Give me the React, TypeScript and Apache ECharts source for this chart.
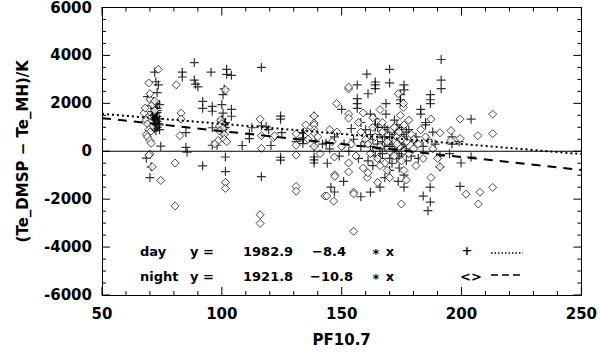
import React, { useEffect, useRef } from "react";
import * as echarts from "echarts";

// Day observations (+ symbols): [PF10.7, Te_DMSP - Te_MH]
const dayPoints: number[][] = [
  [72, 3300], [72.5, 2900], [69, 2280], [73.5, 2770], [71.5, 2080], [72, 1790], [73, 1700], [72.5, 1600],
  [71, 1500], [73, 1450], [72, 1400], [74, 1350], [71.5, 1300], [73, 1250], [72, 1200], [74, 1100],
  [71, 1050], [73, 1000], [72, 950], [74, 900], [72.5, 860], [73, 1800], [74, 1950], [71, 1650],
  [70, 1150], [74.5, 210], [68.5, -290], [70.5, -650], [70, -1100], [72.5, 2000], [73, 2450], [70.5, 1900],
  [72, 1550], [73.5, 1150], [72, 1320], [73, 1620],
  [83.5, 3300], [83.5, 3100], [85, 780], [85, 160], [85.5, -40], [88.5, 3700], [88.5, 2970], [89, 2800],
  [90, 2690], [92, 2080], [92, 1790], [95.5, 3300], [96, 1870], [96, 1670], [92, -610],
  [100, 1950], [100.5, 1590], [100, 1340], [100.5, 2360], [101, 2600], [102, 3420], [102, 3210], [104, 3170],
  [104, 1750], [104, 1460], [100, 1250], [101, 1150], [100, 1050], [101.5, 980], [100.5, 900], [100, 800],
  [101, 700], [96, 980], [96, 250], [98, 250], [101.5, -240], [101.5, -850], [108.5, 240], [111.5, 730],
  [100.5, 1100], [101, 1000], [100, 920], [101.5, 1200],
  [111.5, 530], [112.5, 980], [116.5, 3500], [116.5, 1060], [118.5, 1020], [119.5, 900], [120.5, 240],
  [116.5, -1060], [124.5, 1340], [124.5, 1470], [125, 780], [124.5, -370], [124.5, -250], [131, 400],
  [134, 780], [134, 500], [138.5, 1470], [139, 400], [138.5, -240], [138.5, -490], [138.5, -360], [143.5, 330],
  [160.5, 3220], [170, 3420], [170, 2850], [164, 2890], [164, 2770], [164, 2610], [156.5, 2770], [161, 2400],
  [176, 2770], [176, 2560], [174.5, 2360], [174.5, 2150], [174.5, 1990], [156.5, 2200], [156.5, 1990],
  [156.5, 1790], [150, 1750], [168.5, 1990], [191.5, 3830], [191.5, 2970], [191.5, 2610], [187, 2360],
  [187, 2150], [187, 1990], [183, 1750], [183, 1550], [162, 1550], [168.5, 1550], [185, 1200], [185, 1100],
  [164, 1350], [164, 1100], [164, 1000], [154, 950], [133.8, 760], [133.8, 560], [133.8, 320], [138.5, 200],
  [160, 900], [162, 700], [163, 500], [165, 300], [166, 100], [167, -100], [168, 600], [169, 400],
  [170, 200], [171, 800], [172, 0], [173, -300], [174, 500], [175, 700], [176, 300], [177, 100],
  [178, 900], [179, -200], [180, 400], [181, 600], [158, 200], [157, -300], [155, 500], [153, 0],
  [151, 300], [149, -200], [147, 600], [145, 100], [144, -500], [142, 300],
  [150.8, -1260], [145.5, -1500], [147, -1700], [162, -1710], [158, -1900], [166, -1500], [173.6, -1260],
  [176, -1500], [186.9, -1500], [184, -1870], [187, -2120], [186, -2480], [176, -1000], [170, -800],
  [168, -1100], [199.8, -490], [199.4, -1470], [204, 1340], [204, -240], [191, -650], [191, -200],
  [195, -100], [196, 600], [196, 300], [199, 400], [161, -400], [163, -600], [171, -500], [174, -700],
  [177, -400], [182, -300], [184, 200], [186, 500], [188, 800], [189, 300], [158, 1200], [172, 1300],
  [166, 700], [167, 400], [168, 200], [169, 900], [170, 600], [171, 300], [172, 700], [173, 100],
  [174, 900], [175, 200], [176, 600], [174, -200], [175, -100], [165, 1000], [166, -300], [168, 1000],
  [173, 1100], [175, 1000], [177, 800], [162, 200], [163, 0], [164, -200], [160, 400], [170, -300],
];

// Night observations (diamond symbols)
const nightPoints: number[][] = [
  [73.5, 3420], [69.5, 2850], [70, 2160], [67.5, 1590], [69, 1400], [68.5, 1300], [70, 1200], [69, 1140],
  [70.5, 1000], [69.5, 900], [70, 800], [68.5, 700], [69, 600], [70, 450], [70.5, 330], [70, -120],
  [69.5, -160], [71, -650], [74.5, -1220], [72, 1700], [71, 1950], [70, 2400], [72, 2100], [68, 1800],
  [81, 2770], [83, 1590], [83, 1340], [82.5, 650], [80.5, -490], [80.5, -2280],
  [101.5, 2560], [99.5, 1300], [100, 1150], [99, 1050], [100.5, 950], [99, 850], [101, 700], [98.5, 450],
  [97, 300], [101, 500], [102, 400], [101.5, -1300], [101.5, -1550], [116, 1340], [116.5, 650], [116.5, 120],
  [116, -2650], [116, -3010], [121.5, 570], [122, 650], [131, 730], [131, 250], [131, -160], [131, -1470],
  [131, -1670], [138.5, 1470], [138.5, 1180], [138.5, 1100], [138.5, 900], [138.5, 770], [138.5, 200],
  [143, -1870], [147.9, 1990], [152.9, 2600], [152.9, 2680], [152.9, 1550], [152.9, 1380], [173.6, 2400],
  [175.7, 1830], [166, 1740], [175.8, 1990], [174.5, 1500], [187.3, 1340], [199.4, 1340], [213, 1550],
  [191, 770], [195.6, 860], [206.8, 650], [213, 730], [199.4, 530], [195.6, 450], [147, -240], [152.9, -490],
  [152.9, -860], [147.1, -980], [147.1, -1050], [155, -1710], [155, -1780], [160.7, -1100], [174.9, -2200],
  [187.3, -1100], [191, -650], [201.9, -1790], [207.7, -1710], [207, -2200], [213, -1510], [143.8, -1870],
  [146.7, -2080], [155, -3340], [135, 1100], [136, 800], [136, 500],
  [158, 800], [160, 500], [161, 300], [162, -100], [163, 1000], [164, 600], [165, -300], [166, 200],
  [167, 800], [168, -500], [169, 400], [170, 0], [171, 900], [172, -200], [173, 600], [174, 200],
  [175, -400], [176, 1100], [177, 400], [178, -100], [179, 700], [180, 100], [181, -600], [182, 300],
  [183, 900], [184, -300], [150, 200], [148, 800], [146, 400], [157, 1200], [159, -700], [161, -900],
  [165, -1300], [170, -1100], [176, -800], [174, 800], [175, 500], [176, 0], [173, 300], [172, 1000],
  [140, 600], [141, -100], [145, 900], [154, 300], [156, -200], [163, 1400], [167, 1200], [169, -800],
  [178, 1300], [180, 500], [185, 600], [188, 100], [190, -300], [177, -1200], [166, -600], [159, 1600],
];

// Linear fits: y = a + b * x
const dayFit = [1982.9, -8.4];
const nightFit = [1921.8, -10.8];
const xRange = [50, 250];
const yRange = [-6000, 6000];
const xTickLabels = ["50", "100", "150", "200", "250"];
// Tick positions (major + minor) for the framed axes
const xTickValues = [
  50, 60, 70, 80, 90, 100, 110, 120, 130, 140, 150, 160, 170, 180, 190, 200, 210, 220, 230, 240, 250,
];
const yTickValues = [
  -6000, -5500, -5000, -4500, -4000, -3500, -3000, -2500, -2000, -1500, -1000, -500, 0,
  500, 1000, 1500, 2000, 2500, 3000, 3500, 4000, 4500, 5000, 5500, 6000,
];

const FONT = "DejaVu Sans";

function fitLine(fit: number[]) {
  return xRange.map((x) => [x, fit[0] + fit[1] * x]);
}

function xAxisDef(pos: string, withLabels: boolean) {
  return {
    type: "value",
    position: pos,
    min: xRange[0],
    max: xRange[1],
    interval: 50,
    splitLine: { show: false },
    axisLine: { show: true, onZero: false, lineStyle: { color: "#000", width: 1 } },
    axisTick: { show: false },
    minorTick: { show: false },
    name: withLabels ? "PF10.7" : "",
    nameLocation: "middle",
    nameGap: 37,
    nameTextStyle: { fontFamily: FONT, fontSize: 15, fontWeight: "bold", color: "#000" },
    axisLabel: withLabels
      ? {
          show: true,
          margin: 11,
          fontFamily: FONT,
          fontSize: 15,
          fontWeight: "bold",
          color: "#000",
          formatter: (v: number) => xTickLabels[Math.round((v - xRange[0]) / 50)] ?? "",
        }
      : { show: false },
  };
}

function yAxisDef(pos: string, withLabels: boolean) {
  return {
    type: "value",
    position: pos,
    min: yRange[0],
    max: yRange[1],
    interval: 2000,
    splitLine: { show: false },
    axisLine: { show: true, onZero: false, lineStyle: { color: "#000", width: 1 } },
    axisTick: { show: false },
    minorTick: { show: false },
    name: withLabels ? "(Te_DMSP − Te_MH)/K" : "",
    nameLocation: "middle",
    nameGap: 72,
    nameTextStyle: { fontFamily: FONT, fontSize: 15, fontWeight: "bold", color: "#000" },
    axisLabel: withLabels
      ? {
          show: true,
          margin: 10,
          fontFamily: FONT,
          fontSize: 15,
          fontWeight: "bold",
          color: "#000",
          formatter: (v: number) => String(v),
        }
      : { show: false },
  };
}

export default function App() {
  const ref = useRef<HTMLDivElement>(null);
  useEffect(() => {
    const chart = echarts.init(ref.current!, undefined, { renderer: "svg" });
    const txt = (x: number, y: number, t: string, align = "left") => ({
      type: "text",
      x,
      y,
      z: 10,
      style: {
        text: t,
        fill: "#000",
        font: `bold 13px "${FONT}"`,
        textAlign: align,
        textVerticalAlign: "middle",
      },
    });
    const tickLine = (x1: number, y1: number, x2: number, y2: number) => ({
      type: "line",
      shape: { x1, y1, x2, y2 },
      style: { stroke: "#000", lineWidth: 1 },
    });
    chart.setOption({
      animation: false,
      grid: { left: 102, top: 4, width: 482, height: 295, containLabel: false },
      xAxis: [xAxisDef("bottom", true), xAxisDef("top", false)],
      yAxis: [yAxisDef("left", true), yAxisDef("right", false)],
      series: [
        {
          type: "line",
          data: xRange.map((x) => [x, 0]),
          symbol: "none",
          lineStyle: { color: "#000", width: 1.2 },
        },
        {
          type: "custom",
          silent: true,
          data: xTickValues.map((v) => [v, 0]),
          encode: { x: 0, y: 1 },
          renderItem: (params: any, api: any) => {
            const v = api.value(0);
            const len = v % 50 === 0 ? 8 : 4;
            const b = api.coord([v, yRange[0]]);
            const t = api.coord([v, yRange[1]]);
            return {
              type: "group",
              children: [tickLine(b[0], b[1], b[0], b[1] - len), tickLine(t[0], t[1], t[0], t[1] + len)],
            };
          },
        },
        {
          type: "custom",
          silent: true,
          data: yTickValues.map((v) => [xRange[0], v]),
          encode: { x: 0, y: 1 },
          renderItem: (params: any, api: any) => {
            const v = api.value(1);
            const len = v % 2000 === 0 ? 8 : 4;
            const l = api.coord([xRange[0], v]);
            const r = api.coord([xRange[1], v]);
            return {
              type: "group",
              children: [tickLine(l[0], l[1], l[0] + len, l[1]), tickLine(r[0], r[1], r[0] - len, r[1])],
            };
          },
        },
        {
          type: "scatter",
          data: dayPoints,
          symbol: "path://M0,5L10,5M5,0L5,10",
          symbolSize: 9,
          itemStyle: { color: "transparent", borderColor: "#000", borderWidth: 1.2 },
        },
        {
          type: "scatter",
          data: nightPoints,
          symbol: "diamond",
          symbolSize: [8, 8],
          itemStyle: { color: "#fff", borderColor: "#000", borderWidth: 0.9 },
        },
        {
          type: "line",
          data: fitLine(dayFit),
          symbol: "none",
          lineStyle: { color: "#000", width: 2, type: [2, 3] },
        },
        {
          type: "line",
          data: fitLine(nightFit),
          symbol: "none",
          lineStyle: { color: "#000", width: 2, type: [9, 7] },
        },
      ],
      graphic: [
        txt(140, 251, "day"),
        txt(140, 276, "night"),
        txt(190, 251, "y ="),
        txt(190, 276, "y ="),
        txt(243, 251, dayFit[0].toFixed(1)),
        txt(243, 276, nightFit[0].toFixed(1)),
        txt(312, 251, "−" + Math.abs(dayFit[1]).toFixed(1)),
        txt(310, 276, "−" + Math.abs(nightFit[1]).toFixed(1)),
        txt(376, 253, "*", "center"),
        txt(376, 278, "*", "center"),
        txt(390, 251, "x", "center"),
        txt(390, 276, "x", "center"),
        txt(467, 250, "+", "center"),
        txt(471, 276, "<>", "center"),
        {
          type: "line",
          shape: { x1: 491, y1: 253, x2: 523, y2: 253 },
          style: { stroke: "#000", lineWidth: 1.5, lineDash: [1.5, 2] },
        },
        {
          type: "line",
          shape: { x1: 491, y1: 275, x2: 523, y2: 275 },
          style: { stroke: "#000", lineWidth: 1.5, lineDash: [7, 4] },
        },
      ],
    });
    return () => chart.dispose();
  }, []);
  return (
    <div
      ref={ref}
      style={{ position: "fixed", left: 0, top: 0, width: 600, height: 352, background: "#fff" }}
    />
  );
}
